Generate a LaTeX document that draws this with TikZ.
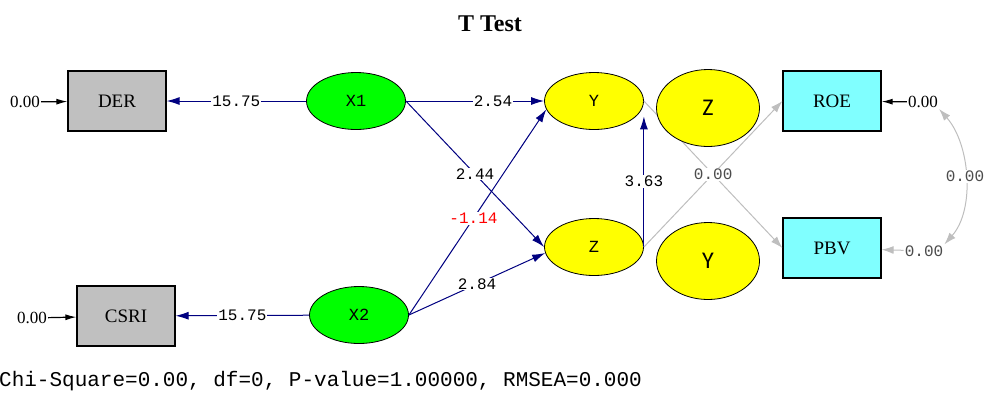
\documentclass[tikz,border=0pt]{standalone}
\usepackage{fontspec}
\setmainfont{Liberation Serif}
\setmonofont{Liberation Mono}
\newfontfamily\latfont{Carlito}
\usepackage{tikz}
\usetikzlibrary{shapes.geometric, arrows.meta, calc}
\definecolor{pathblue}{RGB}{0,0,128}
\definecolor{fixgray}{RGB}{190,190,190}
\definecolor{obsgray}{RGB}{192,192,192}
\definecolor{obscyan}{RGB}{128,255,255}
\definecolor{latgreen}{RGB}{0,255,0}
\definecolor{latyellow}{RGB}{255,255,0}
\tikzstyle{observed}=[draw, line width=1.2pt, minimum width=98pt, minimum height=60pt, font=\fontsize{19}{21}\selectfont]
\tikzstyle{latent}=[ellipse, draw, line width=0.8pt, minimum width=99pt, minimum height=57pt, font=\ttfamily\fontsize{17}{19}\selectfont]
\tikzstyle{bigLatent}=[ellipse, draw, line width=0.8pt, fill=latyellow, minimum width=103pt, minimum height=77pt, font=\latfont\fontsize{24}{28}\selectfont]
\tikzstyle{estimate}=[fill=white, inner sep=1pt, font=\ttfamily\fontsize{16}{18}\selectfont]
\tikzstyle{error}=[inner sep=1pt, font=\fontsize{17}{19}\selectfont]
\tikzstyle{pathArrow}=[-{Latex[length=13pt, width=8pt]}, draw=pathblue, line width=1pt]
\tikzstyle{errorArrow}=[-{Latex[length=11pt, width=6pt]}, line width=1.2pt]
\tikzstyle{fixedArrow}=[-{Latex[length=12pt, width=8pt]}, draw=fixgray, line width=1pt]

\begin{document}
\begin{tikzpicture}[x=1pt, y=-1pt]
      \useasboundingbox (0,0) rectangle (985,392);
      \node[font=\bfseries\fontsize{24}{28}\selectfont] (title) at (490,24) {T Test};

      \node[observed, fill=obsgray] (DER) at (117,101) {DER};
      \node[observed, fill=obsgray] (CSRI) at (126,316) {CSRI};
      \node[observed, fill=obscyan] (ROE) at (832,101) {ROE};
      \node[observed, fill=obscyan] (PBV) at (832,248) {PBV};

      \node[latent, fill=latgreen] (X1) at (356,101) {X1};
      \node[latent, fill=latgreen] (X2) at (359,315) {X2};
      \node[latent, fill=latyellow] (Y) at (594,101) {Y};
      \node[latent, fill=latyellow] (Z) at (594,247) {Z};

      \node[error] (eDER) at (25,102) {0.00};
      \node[error] (eCSRI) at (32,318) {0.00};
      \node[error] (eROE) at (923,102) {0.00};
      \node[estimate, text=black!70] (ePBV) at (924,251) {0.00};

      % error terms
      \foreach \e/\v in {eDER/DER, eCSRI/CSRI, eROE/ROE}{
        \draw[errorArrow] (\e) -- (\v);
      }
      \draw[fixedArrow] (ePBV) -- (PBV);
      \draw[fixedArrow, {Latex[length=12pt, width=8pt]}-{Latex[length=12pt, width=8pt]}]
      (eROE.south east) ..
      controls +(31,35) and +(31,-35) ..
      node[estimate, text=black!70] {0.00}
      (ePBV.north east);

      % loadings and structural paths
      \draw[pathArrow] (X1) -- node[estimate] {15.75} (DER);
      \draw[pathArrow] (X2) -- node[estimate] {15.75} (CSRI);
      \draw[pathArrow] (X1.east) -- node[estimate, pos=0.63] {2.54} (Y.west);
      \draw[pathArrow] (X1.east) -- node[estimate] {2.44} (Z.west);
      \draw[pathArrow] (X2.east) -- node[estimate, text=red, pos=0.47] {-1.14} (Y.190);
      \draw[pathArrow] (X2.east) -- node[estimate] {2.84} (Z.187);
      \draw[pathArrow] (Z.east) -- node[estimate] {3.63} (Z.east |- Y.340);

      \draw[fixedArrow] (Z.east) -- (ROE.west);
      \draw[fixedArrow] (Y.east) -- node[estimate, text=black!70] {0.00} (PBV.west);

      \node[bigLatent] (Zbig) at (708,108) {Z};
      \node[bigLatent] (Ybig) at (708,261) {Y};

      \node[anchor=base west, inner sep=0pt, font=\ttfamily\fontsize{21}{24}\selectfont] (fit) at (-1,386)
      {Chi-Square=0.00, df=0, P-value=1.00000, RMSEA=0.000};
    \end{tikzpicture}
\end{document}
